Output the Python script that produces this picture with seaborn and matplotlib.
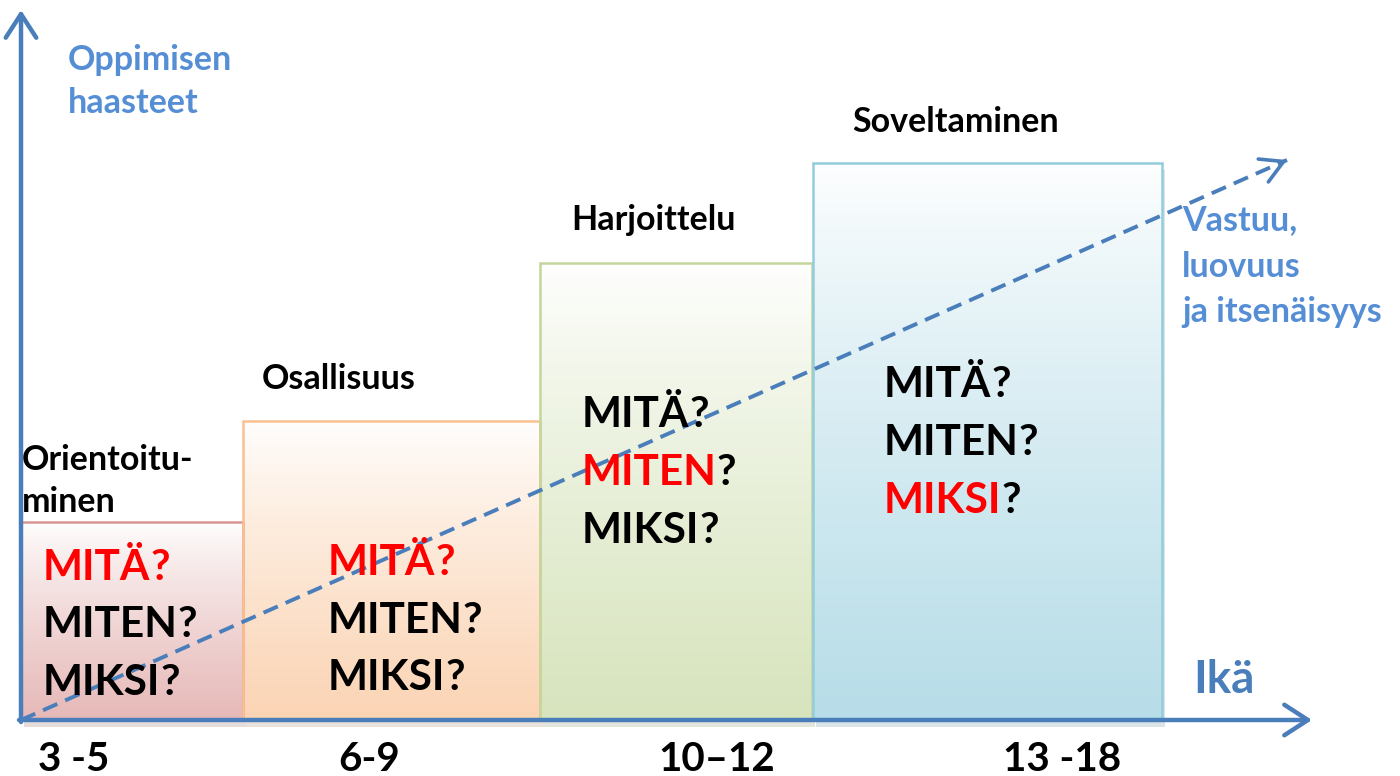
import numpy as np
import matplotlib
matplotlib.use("Agg")
import matplotlib.pyplot as plt
import seaborn as sns
from matplotlib import patheffects as pe
from matplotlib.colors import LinearSegmentedColormap

# stages of learning (x = age axis, y = learning challenge), origin at axis corner
stages = ["Orientoitu-\nminen", "Osallisuus", "Harjoittelu", "Soveltaminen"]
age_groups = ["3 -5", "6-9", "10–12", "13 -18"]
stage_start = [0, 222, 519, 792]
stage_width = [222, 297, 272, 349]
challenge = [198, 299, 457, 557]
questions = ["MITÄ", "MITEN", "MIKSI"]
focus = [0, 0, 1, 2]                    # highlighted question per stage
focus_mark = [True, True, False, False]  # "?" highlighted too
trend_x = [0, 1266]
trend_y = [0, 560]

fill_colors = ["#e6b9b8", "#fbd4b4", "#d7e4bd", "#b7dde8"]
edge_colors = ["#d99694", "#fac090", "#c3d69b", "#93cddd"]
AXIS = "#4a7ebb"
BLUE_TXT = "#558ed5"
RED = "#ff0000"

sns.set_style("white")
plt.rcParams["font.family"] = ["Lato", "DejaVu Sans"]

fig = plt.figure(figsize=(14, 7.76), dpi=100)
ax = fig.add_axes([0, 0, 1, 1])
X0, Y0 = 21, 720


def P(x, y):
    # slide pixel position -> data coords
    return x - X0, Y0 - y


# boxes with shadow
bars = ax.bar(stage_start, challenge, width=stage_width, align="edge",
              color=fill_colors, linewidth=0, zorder=1)
for b in bars:
    b.set_path_effects([pe.SimplePatchShadow(offset=(2.5, -5), rho=0.75), pe.Normal()])

# vertical gradient white -> colour
for b, c in zip(bars, fill_colors):
    x, w, h = b.get_x(), b.get_width(), b.get_height()
    cmap = LinearSegmentedColormap.from_list("g", ["white", c])
    grad = (np.linspace(0, 1, 256) ** 0.8).reshape(-1, 1)
    im = ax.imshow(grad, cmap=cmap, extent=(x, x + w, 0, h), aspect="auto",
                   origin="upper", zorder=1.5, vmin=0, vmax=1)
    im.set_clip_path(b)

ax.bar(stage_start, challenge, width=stage_width, align="edge",
       facecolor="none", edgecolor=edge_colors, linewidth=1.8, zorder=2)

# dashed trend
sns.lineplot(x=trend_x, y=trend_y, ax=ax, color=AXIS, lw=2.8,
             linestyle=(0, (4, 2.2)), zorder=4)
u = np.array([trend_x[1] - trend_x[0], trend_y[1] - trend_y[0]], dtype=float)
u /= np.hypot(*u)
end = np.array([trend_x[1], trend_y[1]], dtype=float)
ax.annotate("", xy=end, xytext=end - 6 * u,
            arrowprops=dict(arrowstyle="->,head_length=0.8,head_width=0.45", lw=2.6,
                            color=AXIS, shrinkA=0, shrinkB=0, mutation_scale=20), zorder=4)

# axes arrows
arrow = dict(arrowstyle="->,head_length=0.85,head_width=0.55", lw=3.2, color=AXIS,
             shrinkA=0, shrinkB=0, mutation_scale=20, capstyle="round")
ax.annotate("", xy=P(21, 10), xytext=P(21, 722), arrowprops=arrow, zorder=5)
ax.annotate("", xy=P(1312, 720), xytext=P(19, 720), arrowprops=arrow, zorder=5)

# stage titles
title_pos = [(22, [470, 512]), (262, [389]), (571, [230]), (852, [132])]
for name, (tx, ys) in zip(stages, title_pos):
    for line, ty in zip(name.split("\n"), ys):
        ax.text(*P(tx, ty), line, fontsize=24.5, fontweight="bold", color="black",
                va="baseline", ha="left", zorder=6)

# questions inside boxes
QS = 30.5
q_left = [43, 328, 582, 884]
q_base = [[580, 637, 695], [575, 633, 690], [427, 485, 543], [397, 455, 513]]
for i in range(len(stages)):
    for j, q in enumerate(questions):
        hi = focus[i] == j
        pos = P(q_left[i], q_base[i][j])
        full = ax.text(*pos, q + "?", fontsize=QS, fontweight="bold", alpha=0,
                       va="baseline", ha="left")
        ax.text(*pos, q, fontsize=QS, fontweight="bold",
                color=RED if hi else "black", va="baseline", ha="left", zorder=6)
        ax.annotate("?", xy=(1, 0), xycoords=full, va="bottom", ha="right",
                    fontsize=QS, fontweight="bold",
                    color=RED if (hi and focus_mark[i]) else "black", zorder=6)

# age labels
age_left = [38, 338, 658, 1003]
for lab, lx in zip(age_groups, age_left):
    ax.text(*P(lx, 771), lab, fontsize=29, fontweight="bold", color="black",
            va="baseline", ha="left")

# blue annotations
for line, ty in zip(["Oppimisen", "haasteet"], [70, 113]):
    ax.text(*P(68, ty), line, fontsize=24.5, fontweight="bold", color=BLUE_TXT, va="baseline")
for line, ty in zip(["Vastuu,", "luovuus", "ja itsenäisyys"], [230, 277, 322]):
    ax.text(*P(1182, ty), line, fontsize=24.5, fontweight="bold", color=BLUE_TXT, va="baseline")
ax.text(*P(1193, 693), "Ikä", fontsize=33, fontweight="bold", color=AXIS, va="baseline")

ax.set_xlim(-X0, 1400 - X0)
ax.set_ylim(Y0 - 776, Y0)
ax.axis("off")
fig.savefig("out.png", dpi=100)
